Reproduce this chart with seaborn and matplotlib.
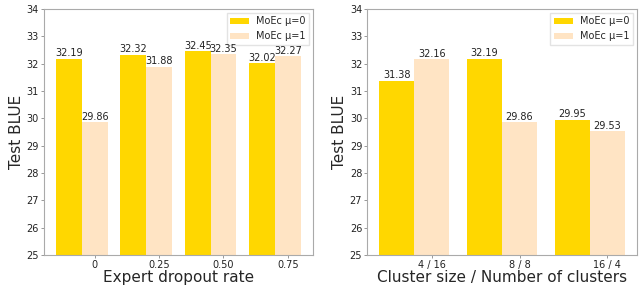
import pandas as pd
import matplotlib
matplotlib.use('Agg')
import matplotlib.pyplot as plt
import seaborn as sns

# data
dropout_rates = ['0', '0.25', '0.50', '0.75']
dropout_mu0 = [32.19, 32.32, 32.45, 32.02]
dropout_mu1 = [29.86, 31.88, 32.35, 32.27]

cluster_cfgs = ['4 / 16', '8 / 8', '16 / 4']
cluster_mu0 = [31.38, 32.19, 29.95]
cluster_mu1 = [32.16, 29.86, 29.53]

series_names = ['MoEc μ=0', 'MoEc μ=1']
colors = ['#FFD700', '#FFE4C4']

sns.set_style('white')
plt.rcParams['font.family'] = ['DejaVu Sans']


def to_long(cats, a, b):
    df = pd.DataFrame({'cat': cats * 2,
                       'val': a + b,
                       'model': [series_names[0]] * len(cats) + [series_names[1]] * len(cats)})
    return df


def draw(ax, cats, a, b, xlabel):
    df = to_long(cats, a, b)
    sns.barplot(data=df, x='cat', y='val', hue='model', palette=colors,
                saturation=1, width=0.8, ax=ax, legend=True, linewidth=0)
    # tick sits under the second bar of each pair
    second = ax.containers[1]
    ax.set_xticks([p.get_x() + p.get_width() / 2 for p in second])
    ax.set_xticklabels(cats)
    xs = [p.get_x() for c in ax.containers for p in c]
    xe = [p.get_x() + p.get_width() for c in ax.containers for p in c]
    lo, hi = min(xs), max(xe)
    pad = 0.05 * (hi - lo)
    ax.set_xlim(lo - pad, hi + pad)
    ax.set_ylim(25, 34)
    ax.set_yticks(range(25, 35))
    for c in ax.containers:
        ax.bar_label(c, fmt='%.2f', fontsize=7, padding=0.5, color='#222222')
    ax.set_xlabel(xlabel, fontsize=11, labelpad=0)
    ax.set_ylabel('Test BLUE', fontsize=11, labelpad=2)
    ax.tick_params(axis='both', labelsize=7, left=True, bottom=True,
                   length=2, width=0.6, color='#888888', pad=1.5,
                   labelcolor='#222222')
    for s in ax.spines.values():
        s.set_color('#aaaaaa')
        s.set_linewidth(0.8)
    leg = ax.legend(loc='upper right', fontsize=7, frameon=True, fancybox=False,
                    edgecolor='#dddddd', handlelength=2.0, handleheight=0.6,
                    handletextpad=0.7, borderpad=0.35, labelspacing=0.5,
                    borderaxespad=0.4)
    leg.set_zorder(1)


fig = plt.figure(figsize=(6.44, 2.85), dpi=100)
ax1 = fig.add_axes([0.068, 0.105, 0.418, 0.863])
ax2 = fig.add_axes([0.570, 0.105, 0.419, 0.863])

draw(ax1, dropout_rates, dropout_mu0, dropout_mu1, 'Expert dropout rate')
draw(ax2, cluster_cfgs, cluster_mu0, cluster_mu1, 'Cluster size / Number of clusters')

fig.savefig('out.png', dpi=100)
